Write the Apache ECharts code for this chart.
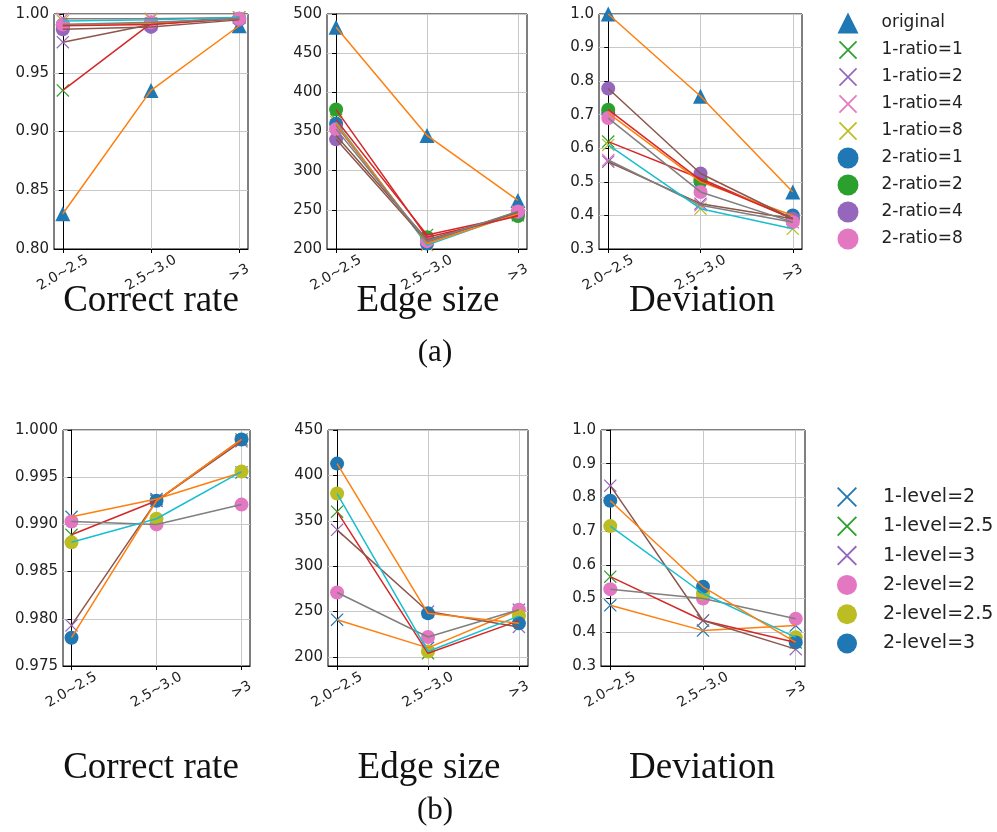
<!DOCTYPE html>
<html><head><meta charset="utf-8">
<script src="https://cdn.jsdelivr.net/npm/echarts@6/dist/echarts.min.js"></script>
<style>html,body{margin:0;padding:0;background:#fff}#c{width:997px;height:832px}</style>
</head><body><div id="c"></div><script>
// ---------- data ----------
const xCategories = ['2.0~2.5', '2.5~3.0', '>3'];

const namesA = ['original', '1-ratio=1', '1-ratio=2', '1-ratio=4', '1-ratio=8',
  '2-ratio=1', '2-ratio=2', '2-ratio=4', '2-ratio=8'];
const correctRateA = [
  [0.830, 0.935, 0.990],
  [0.935, 0.992, 0.997],
  [0.976, 0.991, 0.997],
  [0.996, 0.996, 0.997],
  [0.994, 0.995, 0.997],
  [0.991, 0.992, 0.996],
  [0.990, 0.991, 0.996],
  [0.987, 0.989, 0.995],
  [0.991, 0.993, 0.996]
];
const edgeSizeA = [
  [483, 345, 262],
  [365, 218, 243],
  [345, 212, 245],
  [358, 208, 248],
  [362, 205, 246],
  [360, 207, 245],
  [378, 215, 242],
  [340, 210, 247],
  [353, 210, 248]
];
const deviationA = [
  [1.000, 0.755, 0.470],
  [0.620, 0.510, 0.390],
  [0.560, 0.435, 0.390],
  [0.565, 0.430, 0.380],
  [0.610, 0.420, 0.360],
  [0.705, 0.500, 0.400],
  [0.715, 0.505, 0.390],
  [0.778, 0.525, 0.390],
  [0.690, 0.470, 0.380]
];

const namesB = ['1-level=2', '1-level=2.5', '1-level=3', '2-level=2', '2-level=2.5', '2-level=3'];
const correctRateB = [
  [0.9908, 0.9927, 0.9955],
  [0.9889, 0.9925, 0.9990],
  [0.9793, 0.9925, 0.9988],
  [0.9903, 0.9900, 0.9921],
  [0.9881, 0.9906, 0.9956],
  [0.9780, 0.9925, 0.9990]
];
const edgeSizeB = [
  [241, 210, 252],
  [360, 204, 240],
  [340, 250, 233],
  [271, 222, 252],
  [380, 206, 245],
  [413, 248, 237]
];
const deviationB = [
  [0.480, 0.405, 0.420],
  [0.565, 0.435, 0.370],
  [0.835, 0.435, 0.350],
  [0.528, 0.500, 0.440],
  [0.715, 0.515, 0.385],
  [0.790, 0.535, 0.370]
];

const yTicksCorrectA = [0.80, 0.85, 0.90, 0.95, 1.00];
const yTicksEdgeA = [200, 250, 300, 350, 400, 450, 500];
const yTicksDevA = [0.3, 0.4, 0.5, 0.6, 0.7, 0.8, 0.9, 1.0];
const yTicksCorrectB = [0.975, 0.980, 0.985, 0.990, 0.995, 1.000];
const yTicksEdgeB = [200, 250, 300, 350, 400, 450];
const yTicksDevB = [0.3, 0.4, 0.5, 0.6, 0.7, 0.8, 0.9, 1.0];

// ---------- styles ----------
const C = ['#1f77b4', '#ff7f0e', '#2ca02c', '#d62728', '#9467bd', '#8c564b', '#e377c2', '#7f7f7f', '#bcbd22', '#17becf'];
const X_PATH = 'path://M0,1.3 L1.3,0 L10,8.7 L18.7,0 L20,1.3 L11.3,10 L20,18.7 L18.7,20 L10,11.3 L1.3,20 L0,18.7 L8.7,10 Z';
const X_PATH_PAD = 'path://M-1.5,-1.5 L-1.49,-1.5 L-1.5,-1.49 Z M21.5,21.5 L21.49,21.5 L21.5,21.49 Z M0,1.3 L1.3,0 L10,8.7 L18.7,0 L20,1.3 L11.3,10 L20,18.7 L18.7,20 L10,11.3 L1.3,20 L0,18.7 L8.7,10 Z';
const markersA = ['triangle', X_PATH, X_PATH, X_PATH, X_PATH, 'circle', 'circle', 'circle', 'circle'];
const markerColorsA = [C[0], C[2], C[4], C[6], C[8], C[0], C[2], C[4], C[6]];
const lineColorsA = [C[1], C[3], C[5], C[7], C[9], C[1], C[3], C[5], C[7]];
const markersB = [X_PATH, X_PATH, X_PATH, 'circle', 'circle', 'circle'];
const markerColorsB = [C[0], C[2], C[4], C[6], C[8], C[0]];
const lineColorsB = [C[1], C[3], C[5], C[7], C[9], C[1]];

const FONT = 'DejaVu Sans';
const panels = [
  { grid: { left: 54, top: 14, width: 194, height: 235 }, min: 0.8, max: 1.0, ticks: yTicksCorrectA, dec: 2, names: namesA, data: correctRateA, mk: markersA, mc: markerColorsA, lc: lineColorsA },
  { grid: { left: 327, top: 14, width: 200, height: 235 }, min: 200, max: 500, ticks: yTicksEdgeA, dec: 0, names: namesA, data: edgeSizeA, mk: markersA, mc: markerColorsA, lc: lineColorsA },
  { grid: { left: 599, top: 14, width: 203, height: 235 }, min: 0.3, max: 1.0, ticks: yTicksDevA, dec: 1, names: namesA, data: deviationA, mk: markersA, mc: markerColorsA, lc: lineColorsA },
  { grid: { left: 63, top: 430, width: 187, height: 236 }, min: 0.975, max: 1.0, ticks: yTicksCorrectB, dec: 3, names: namesB, data: correctRateB, mk: markersB, mc: markerColorsB, lc: lineColorsB },
  { grid: { left: 328, top: 430, width: 200, height: 236 }, min: 190, max: 450, ticks: yTicksEdgeB, dec: 0, names: namesB, data: edgeSizeB, mk: markersB, mc: markerColorsB, lc: lineColorsB },
  { grid: { left: 601, top: 430, width: 204, height: 236 }, min: 0.3, max: 1.0, ticks: yTicksDevB, dec: 1, names: namesB, data: deviationB, mk: markersB, mc: markerColorsB, lc: lineColorsB }
];

const grids = [], xAxes = [], yAxes = [], series = [];
panels.forEach((p, gi) => {
  grids.push(Object.assign({ show: true, borderColor: '#000', borderWidth: 1, backgroundColor: 'transparent' }, p.grid));
  xAxes.push({
    type: 'value', gridIndex: gi, min: -0.1, max: 2.1,
    axisLine: { show: true, onZero: false, lineStyle: { color: '#000', width: 1 } },
    axisTick: { show: true, length: 4, customValues: [0, 1, 2], lineStyle: { color: '#000' } },
    axisLabel: {
      customValues: [0, 1, 2], rotate: 30, align: 'center', verticalAlign: 'middle', margin: 24,
      fontSize: 14, fontFamily: FONT, color: '#222',
      formatter: v => xCategories[Math.round(v)]
    },
    splitLine: { show: true, lineStyle: { color: '#c8c8c8', width: 1 } }
  });
  yAxes.push({
    type: 'value', gridIndex: gi, min: p.min, max: p.max,
    axisLine: { show: true, lineStyle: { color: '#000', width: 1 } },
    axisTick: { show: true, length: 4, customValues: p.ticks, lineStyle: { color: '#000' } },
    axisLabel: {
      customValues: p.ticks, margin: 5, fontSize: 15, fontFamily: FONT, color: '#222',
      formatter: v => Number(v).toFixed(p.dec)
    },
    splitLine: { show: true, lineStyle: { color: '#c8c8c8', width: 1 } }
  });
  p.names.forEach((name, i) => {
    const pts = p.data[i].map((v, k) => [k, v]);
    const isCircle = p.mk[i] === 'circle';
    series.push({
      type: 'scatter', name: name, xAxisIndex: gi, yAxisIndex: gi, data: pts,
      symbol: p.mk[i], symbolSize: isCircle ? 14 : (p.mk[i] === 'triangle' ? 15 : 13),
      itemStyle: { color: p.mc[i], opacity: 1 }, silent: true
    });
    series.push({
      type: 'line', name: name + ' line', xAxisIndex: gi, yAxisIndex: gi, data: pts,
      symbol: 'none', showSymbol: false, lineStyle: { color: p.lc[i], width: 1.5 },
      itemStyle: { color: p.lc[i] }, silent: true
    });
  });
});

const legendIconsA = markersA.map(m => m === X_PATH ? X_PATH_PAD : m);
const legendIconsB = markersB.slice();

const titleFont = '37px "Liberation Serif"';
const option = {
  animation: false,
  backgroundColor: '#fff',
  grid: grids, xAxis: xAxes, yAxis: yAxes, series: series,
  legend: [
    {
      data: namesA.map((n, i) => ({ name: n, icon: legendIconsA[i] })),
      orient: 'vertical', left: 837.5, top: 12.5, itemWidth: 21, itemHeight: 21, itemGap: 6, padding: 0,
      selectedMode: false,
      textStyle: { fontSize: 17, fontFamily: FONT, color: '#222', padding: [0, 0, 0, 18] }
    },
    {
      data: namesB.map((n, i) => ({ name: n, icon: legendIconsB[i] })),
      orient: 'vertical', left: 837, top: 487, itemWidth: 20, itemHeight: 20, itemGap: 9.3, padding: 0,
      selectedMode: false,
      textStyle: { fontSize: 19, fontFamily: FONT, color: '#222', padding: [0, 0, 0, 21] }
    }
  ],
  graphic: [
    { type: 'text', x: 151, y: 301, style: { text: 'Correct rate', font: titleFont, fill: '#111', align: 'center', verticalAlign: 'middle' } },
    { type: 'text', x: 428, y: 301, style: { text: 'Edge size', font: titleFont, fill: '#111', align: 'center', verticalAlign: 'middle' } },
    { type: 'text', x: 702, y: 301, style: { text: 'Deviation', font: titleFont, fill: '#111', align: 'center', verticalAlign: 'middle' } },
    { type: 'text', x: 435, y: 353, style: { text: '(a)', font: '31px "Liberation Serif"', fill: '#111', align: 'center', verticalAlign: 'middle' } },
    { type: 'text', x: 151, y: 768, style: { text: 'Correct rate', font: titleFont, fill: '#111', align: 'center', verticalAlign: 'middle' } },
    { type: 'text', x: 429, y: 768, style: { text: 'Edge size', font: titleFont, fill: '#111', align: 'center', verticalAlign: 'middle' } },
    { type: 'text', x: 702, y: 768, style: { text: 'Deviation', font: titleFont, fill: '#111', align: 'center', verticalAlign: 'middle' } },
    { type: 'text', x: 435, y: 811, style: { text: '(b)', font: '31px "Liberation Serif"', fill: '#111', align: 'center', verticalAlign: 'middle' } }
  ]
};
const chart = echarts.init(document.getElementById('c'), null, { renderer: 'canvas' });
chart.setOption(option);
</script></body></html>
